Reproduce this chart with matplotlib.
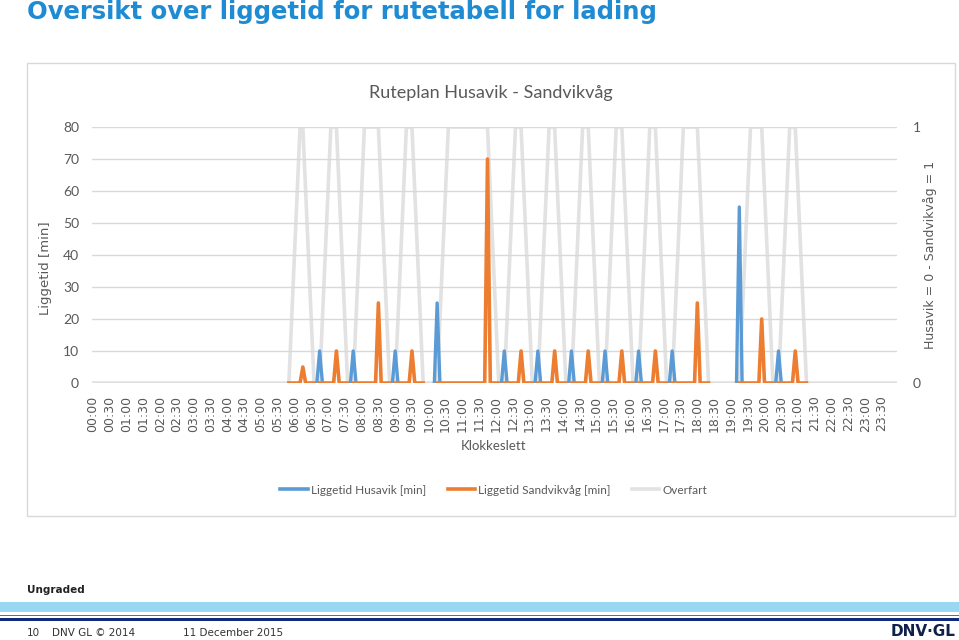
import numpy as np
import matplotlib.pyplot as plt
from matplotlib.patches import Rectangle
from matplotlib.lines import Line2D

# Rutetabell (klokkeslett), lest av figuren
dep_husavik = ["05:50", "06:45", "07:45", "09:00", "10:15", "12:15", "13:15",
               "14:15", "15:15", "16:15", "17:15", "19:15", "20:25"]
arr_sandvik = ["06:10", "07:05", "08:05", "09:20", "10:35", "12:35", "13:35",
               "14:35", "15:35", "16:35", "17:35", "19:35", "20:45"]
dep_sandvik = ["06:15", "07:15", "08:30", "09:30", "11:45", "12:45", "13:45",
               "14:45", "15:45", "16:45", "18:00", "19:55", "20:55"]
arr_husavik = ["06:35", "07:35", "08:50", "09:50", "12:05", "13:05", "14:05",
               "15:05", "16:05", "17:05", "18:20", "20:15", "21:15"]

# Liggetid [min]
ligg_sandvik = [5, 10, 25, 10, 70, 10, 10, 10, 10, 10, 25, 20, 10]
ligg_husavik = [None, 10, 10, 10, 25, 10, 10, 10, 10, 10, 10, 55, 10]

tick_labels = ["%02d:%02d" % (h, m) for h in range(24) for m in (0, 30)]

STEP = 5  # minutter mellom punktene i regnearket
BLUE = '#5B9BD5'
ORANGE = '#ED7D31'
GREY = '#E2E2E2'
TXT = '#595959'
CAL = 'Lato'


def mins(s):
    h, m = s.split(':')
    return int(h) * 60 + int(m)


# Bygg seriene
hus_x, hus_y = [], []
for d, v in zip(dep_husavik, ligg_husavik):
    if v is None:
        continue
    t = mins(d)
    hus_x += [t - STEP, t, t + STEP, np.nan]
    hus_y += [0, v, 0, np.nan]

sand_x, sand_y = [], []
for dh, ds, ah, v in zip(dep_husavik, dep_sandvik, arr_husavik, ligg_sandvik):
    sand_x += [mins(dh), mins(ds) - STEP, mins(ds), mins(ds) + STEP, mins(ah), np.nan]
    sand_y += [0, 0, v, 0, 0, np.nan]

over_x, over_y = [0], [0]
for dh, a_s, ds, ah in zip(dep_husavik, arr_sandvik, dep_sandvik, arr_husavik):
    over_x += [mins(dh), mins(a_s), mins(ds), mins(ah)]
    over_y += [0, 1, 1, 0]
over_x.append(24 * 60 - STEP)
over_y.append(0)

fig = plt.figure(figsize=(9.59, 6.4), dpi=100)
W, H = 959.0, 640.0

# Chart frame
fig.patches.append(Rectangle((27 / W, 1 - 516 / H), 928 / W, 453 / H,
                             transform=fig.transFigure, fill=False,
                             edgecolor='#D9D9D9', linewidth=1))

ax = fig.add_axes([91.6 / W, 1 - 383 / H, 805.8 / W, 256 / H])
ax2 = ax.twinx()
ax.set_zorder(ax2.get_zorder() + 1)
ax.patch.set_visible(False)

ax2.plot(over_x, over_y, color=GREY, linewidth=2.6, solid_joinstyle='round')
ax.plot(hus_x, hus_y, color=BLUE, linewidth=2.4, solid_joinstyle='round')
ax.plot(sand_x, sand_y, color=ORANGE, linewidth=2.6, solid_joinstyle='round')

xmin, xmax = -STEP / 2, 24 * 60 - STEP / 2
ax.set_xlim(xmin, xmax)
ax.set_ylim(0, 80)
ax2.set_ylim(0, 1)

ax.set_yticks(range(0, 81, 10))
ax2.set_yticks([0, 1])
ax.set_xticks(range(0, 24 * 60, 30))
ax.set_xticklabels(tick_labels, rotation=90, fontsize=9, color=TXT)
ax.grid(axis='y', color='#D9D9D9', linewidth=1)
ax.set_axisbelow(True)

for a in (ax, ax2):
    for s in a.spines.values():
        s.set_visible(False)
    a.tick_params(length=0)
ax.tick_params(axis='x', pad=9)
ax.tick_params(axis='y', pad=9, labelsize=10, labelcolor=TXT)
for lb in ax.get_yticklabels():
    lb.set_family(CAL)
ax2.tick_params(axis='y', pad=11, labelsize=10, labelcolor=TXT)
for lb in ax2.get_yticklabels():
    lb.set_family(CAL)

# Texts
fig.text(27 / W, 1 - 12 / H, "Oversikt over liggetid for rutetabell for lading",
         fontsize=17.5, fontweight='bold', color='#1F8BD3', va='center', ha='left')
fig.text(491 / W, 1 - 93 / H, "Ruteplan Husavik - Sandvikvåg", fontsize=13,
         family=CAL, color=TXT, ha='center', va='center')
fig.text(45 / W, 1 - 268 / H, "Liggetid [min]", fontsize=9.5, color=TXT,
         rotation=90, ha='center', va='center')
fig.text(930 / W, 1 - 255 / H, "Husavik = 0 - Sandvikvåg = 1", fontsize=9,
         color=TXT, rotation=90, ha='center', va='center')
fig.text(494 / W, 1 - 446 / H, "Klokkeslett", fontsize=9.5, family=CAL,
         color=TXT, ha='center', va='center')

handles = [Line2D([], [], color=BLUE, linewidth=2.6),
           Line2D([], [], color=ORANGE, linewidth=2.6),
           Line2D([], [], color=GREY, linewidth=2.6)]
fig.legend(handles, ["Liggetid Husavik [min]", "Liggetid Sandvikvåg [min]", "Overfart"],
           loc='center', bbox_to_anchor=(494 / W, 1 - 490 / H), ncol=3,
           frameon=False, prop={'family': CAL, 'size': 8.5}, labelcolor=TXT,
           handlelength=2.3, handletextpad=0.3, columnspacing=1.8)

# Footer
fig.text(27 / W, 1 - 590 / H, "Ungraded", fontsize=7.5, fontweight='bold',
         color='#222222', va='center')
fig.patches.append(Rectangle((0, 1 - 612 / H), 1, 10 / H, transform=fig.transFigure,
                             facecolor='#9AD7F2', edgecolor='none'))
fig.patches.append(Rectangle((0, 1 - 616 / H), 1, 1.5 / H, transform=fig.transFigure,
                             facecolor='#3E8B3A', edgecolor='none'))
fig.patches.append(Rectangle((0, 1 - 621 / H), 1, 3.5 / H, transform=fig.transFigure,
                             facecolor='#0F2A7A', edgecolor='none'))
fig.text(27 / W, 1 - 633 / H, "10", fontsize=7.5, color='#333333', va='center')
fig.text(52 / W, 1 - 633 / H, "DNV GL © 2014", fontsize=7.5, color='#333333', va='center')
fig.text(183 / W, 1 - 633 / H, "11 December 2015", fontsize=7.5, color='#333333', va='center')
fig.text(955 / W, 1 - 632 / H, "DNV·GL", fontsize=11, fontweight='bold',
         color='#0F204B', ha='right', va='center')

fig.savefig('out.png', dpi=100)
